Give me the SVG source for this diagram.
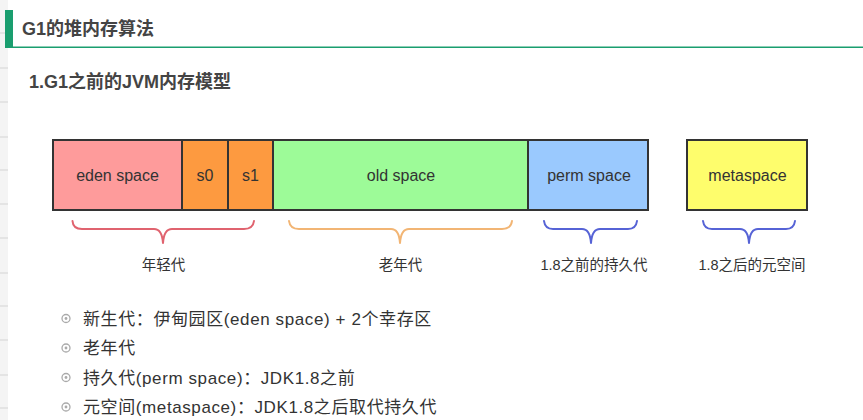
<svg xmlns="http://www.w3.org/2000/svg" width="863" height="420" viewBox="0 0 863 420">
<style>
.h{font-family:"Liberation Sans","Noto Sans CJK SC",sans-serif;font-weight:bold;font-size:18px;fill:#444}
.bx{stroke:#333;stroke-width:2}
.bt{font-family:"Liberation Sans","Noto Sans CJK SC",sans-serif;font-size:16px;fill:#333;text-anchor:middle}
.lb{font-family:"Liberation Sans","Noto Sans CJK SC",sans-serif;font-size:14.5px;fill:#333;text-anchor:middle}
.br{fill:none;stroke-width:2;stroke-linecap:round;stroke-linejoin:round}
.li{font-family:"Liberation Sans","Noto Sans CJK SC",sans-serif;font-size:17px;letter-spacing:0.6px;fill:#333}
.bu{fill:none;stroke:#aaa;stroke-width:1.3}
.sep{stroke:#e4e4e4;stroke-width:2}
</style>
<rect width="863" height="420" fill="#fff"/>
<g id="sidebar">
<rect x="0" y="0" width="8" height="420" fill="#f4f4f4"/>
<line class="sep" x1="0" y1="33" x2="8" y2="33"/>
<line class="sep" x1="0" y1="68" x2="8" y2="68"/>
<line class="sep" x1="0" y1="102" x2="8" y2="102"/>
<line class="sep" x1="0" y1="137" x2="8" y2="137"/>
<line class="sep" x1="0" y1="170" x2="8" y2="170"/>
<line class="sep" x1="0" y1="204" x2="8" y2="204"/>
<line class="sep" x1="0" y1="238" x2="8" y2="238"/>
<line class="sep" x1="0" y1="273" x2="8" y2="273"/>
<line class="sep" x1="0" y1="306" x2="8" y2="306"/>
<line class="sep" x1="0" y1="340" x2="8" y2="340"/>
<line class="sep" x1="0" y1="375" x2="8" y2="375"/>
<line class="sep" x1="0" y1="408" x2="8" y2="408"/>
</g>
<g id="heading">
<rect x="5" y="10" width="8" height="38" fill="#1a9e6f"/>
<rect x="5" y="46.5" width="858" height="1.5" fill="#1a9e6f"/>
<text class="h" x="22" y="35">G1的堆内存算法</text>
<text class="h" x="29" y="88">1.G1之前的JVM内存模型</text>
</g>
<g id="eden"><rect class="bx" x="53" y="140" width="129" height="70" fill="#fe9b9b"/><text class="bt" x="117.5" y="181">eden space</text></g>
<g id="s0"><rect class="bx" x="182" y="140" width="46" height="70" fill="#fd9a40"/><text class="bt" x="205" y="181">s0</text></g>
<g id="s1"><rect class="bx" x="228" y="140" width="45" height="70" fill="#fd9a40"/><text class="bt" x="250.5" y="181">s1</text></g>
<g id="old"><rect class="bx" x="273" y="140" width="255" height="70" fill="#9dfb98"/><text class="bt" x="401" y="181">old space</text></g>
<g id="perm"><rect class="bx" x="528" y="140" width="120" height="70" fill="#9ac9fe"/><text class="bt" x="589" y="181">perm space</text></g>
<g id="metaspace"><rect class="bx" x="687" y="140" width="120" height="70" fill="#fefd6c"/><text class="bt" x="747.5" y="181">metaspace</text></g>
<g id="connectors">
<path class="br" stroke="#e0636f" d="M72.5,221 Q73,229 82,229 H154 Q162,229 163,243 Q164,229 172,229 H244 Q253,229 254,221"/>
<path class="br" stroke="#f2b574" d="M289,221 Q290,229 299,229 H391 Q399,229 400,243 Q401,229 409,229 H502 Q511,229 512,221"/>
<path class="br" stroke="#5663d6" d="M544,221 Q545,229 553,229 H582 Q590,229 591,243 Q592,229 600,229 H628 Q636,229 637,221"/>
<path class="br" stroke="#5663d6" d="M703,221 Q704,229 712,229 H740 Q748,229 749,243 Q750,229 758,229 H786 Q794,229 795,221"/>
</g>
<g id="labels">
<text class="lb" x="163.5" y="270">年轻代</text>
<text class="lb" x="400.5" y="270">老年代</text>
<text class="lb" x="594" y="270">1.8之前的持久代</text>
<text class="lb" x="752" y="270">1.8之后的元空间</text>
</g>
<g id="list">
<circle class="bu" cx="66" cy="318.5" r="4"/><circle cx="66" cy="318.5" r="1.4" fill="#aaa"/>
<text class="li" x="83" y="324.5">新生代：伊甸园区(eden space) + 2个幸存区</text>
<circle class="bu" cx="66" cy="348" r="4"/><circle cx="66" cy="348" r="1.4" fill="#aaa"/>
<text class="li" x="83" y="354">老年代</text>
<circle class="bu" cx="66" cy="377.5" r="4"/><circle cx="66" cy="377.5" r="1.4" fill="#aaa"/>
<text class="li" x="83" y="383.5">持久代(perm space)：JDK1.8之前</text>
<circle class="bu" cx="66" cy="407" r="4"/><circle cx="66" cy="407" r="1.4" fill="#aaa"/>
<text class="li" x="83" y="413">元空间(metaspace)：JDK1.8之后取代持久代</text>
</g>
</svg>
